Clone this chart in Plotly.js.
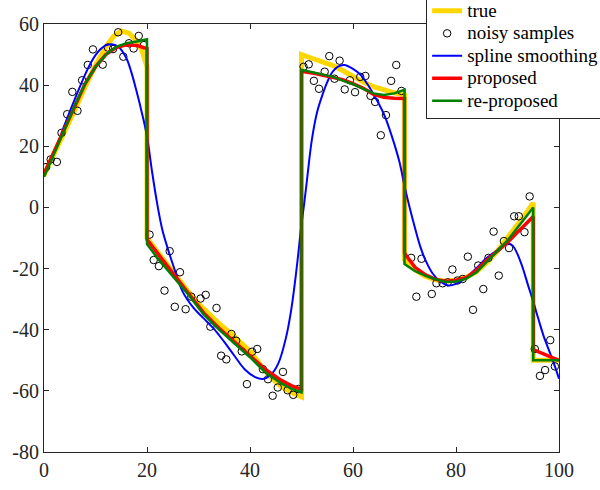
<!DOCTYPE html>
<html>
<head>
<meta charset="utf-8">
<script src="https://cdn.plot.ly/plotly-3.0.1.min.js"></script>
<style>html,body{margin:0;padding:0;background:#fff;}#chart{width:600px;height:490px;}</style>
</head>
<body>
<div id="chart"></div>
<script>
// ---- data ----
var trueX = [0,2,4,6,8,10,12,13.5,15,16.5,18,19,20,
  20,22,24,26,28,30,32,34,36,38,40,42,44,46,48,50,
  50,52,54,56,58,60,62,64,66,68,70,
  70,72,74,76,78,80,82,84,86,88,90,92,94,95,
  95,100];
var trueY = [10.5,17.5,24.5,32,39.5,46.5,52.5,56,57.7,57,54.5,51.5,46,
  -10,-14.5,-19,-23.5,-27.5,-31.5,-35,-38,-40.8,-43.8,-47,-51.5,-55.5,-58.5,-60.5,-62,
  50,48.8,47.8,46.5,44.8,42.8,41,39.5,38.3,37.5,36.8,
  -17,-20.3,-22.5,-23.7,-24.1,-23.8,-22.8,-21,-18,-14.3,-10.2,-5.5,-1,1.5,
  -50,-50];

var sampleX = [0.4,1.3,2.5,3.4,4.5,5.5,6.5,7.4,8.5,9.5,11.4,12.4,13.4,14.4,15.4,16.5,17.4,18.4,19.4,
  20.5,21.3,22.3,23.4,24.4,25.4,26.4,27.5,28.6,30.4,31.4,32.3,33.5,34.4,35.4,36.4,37.3,38.4,39.4,40.4,41.4,42.5,43.5,44.4,45.4,46.4,47.3,48.4,49.4,
  50.4,51.4,52.4,53.4,54.5,55.4,56.4,57.4,58.4,59.4,60.4,61.4,62.4,63.4,64.3,65.4,66.4,67.4,68.4,69.4,
  71.3,72.3,73.3,75.3,76.2,77.4,78.4,79.3,80.3,81.3,82.3,83.3,84.3,85.3,86.3,87.3,88.3,89.3,90.3,91.3,92.2,93.3,94.3,
  95.3,96.3,97.3,98.3,99.2];
var sampleY = [13.2,15.7,14.9,24.4,30.5,37.8,31.6,41.6,46.6,51.7,46.7,52.3,51.8,57.3,49.3,53.7,52.0,56.1,53.1,
  -8.9,-17.2,-19.2,-27.2,-14.3,-32.5,-21.2,-33.3,-29.2,-29.8,-28.6,-39.0,-32.9,-48.5,-49.7,-41.4,-43.6,-47.1,-57.8,-47.2,-46.3,-52.9,-56.2,-61.6,-58.9,-53.8,-59.8,-61.3,-59.4,
  46.0,46.8,41.4,38.8,44.4,49.5,42.1,48.0,38.6,41.6,37.7,42.7,43.0,36.5,34.5,23.6,30.2,41.4,46.6,38.1,
  -16.5,-29.2,-16.8,-28.3,-24.8,-24.8,-24.5,-20.3,-23.9,-23.4,-16.1,-33.5,-19.0,-26.7,-16.5,-7.9,-22.3,-11.0,-13.3,-2.9,-2.9,-8.1,3.6,
  -46.3,-55.1,-53.2,-43.4,-52.0];

var splineX = [0,2,4,6,8,9,10,11,12,13.2,14.5,16,17,18,19,20,21,22,23,24,25,27,29,31,33,35,37,39,41,42.5,44,45.5,47,48,49,50,50.5,51,52,53,54,55,56,57,58.3,60,61.5,63,64.5,66,67.5,69,70,71,72,73,74,75.5,77,78.5,80,82,84,86,88,89,90,91,92,93,94,95,96,97,98,99,100];
var splineY = [10,18,27,35.5,43.5,47,49.8,51.8,53,53.4,52.5,48.8,44,37.8,31,23.2,11.5,1,-7.5,-13.3,-18.5,-27.8,-32.8,-36.3,-39.7,-44,-48.6,-53,-55.5,-56.1,-54.8,-51,-42.5,-33.5,-20.7,-5.5,1,8,22,31,36.5,41,44.3,46,46.6,45.3,43.3,39.8,35.5,30.5,23.5,15,7,0,-6.5,-12.5,-17,-21.7,-24.3,-25.5,-25,-23,-19.8,-16.5,-14,-12.5,-11.7,-12.5,-15.5,-20,-25.5,-30.8,-36.5,-42,-46.5,-51,-56];

var propX = [0,2,4,6,8,10,12,14,16,18,19,20,
  20,22,25,28,31,34,37,40,43,46,48,50,
  50,52,54,56,58,60,62,64,66,68,70,
  70,72,74,76,78,80,82,84,86,88,90,92,94,95,
  95,100];
var propY = [11,18.5,26,33.5,40.5,46,50,52.3,53.2,53,52.6,52,
  -10.5,-15,-21.5,-28,-34.5,-39.5,-44,-48.5,-53,-56.5,-58.3,-59.5,
  44.5,44,43.3,42.6,41.8,40.5,39,37,36,35.7,35.6,
  -15,-19.5,-22,-23.5,-24.2,-23.8,-23,-20.5,-17.2,-14.5,-11.5,-8,-4.5,-3,
  -46.5,-50];

var reX = [0,2,4,6,8,10,12,14,16,18,19,20,
  20,22,25,28,31,34,37,40,43,46,48,50,
  50,52,54,56,58,60,62,64,66,68,70,
  70,72,74,76,78,80,82,84,86,88,90,92,94,95,
  95,100];
var reY = [10,17.5,25.5,33.5,40.5,46,50,52.5,53.7,54.3,54.6,55,
  -12,-16.5,-22.5,-28.5,-35,-40,-44.5,-49,-54,-57.5,-59.3,-60.5,
  45,44.3,43.7,42.8,41.5,40.3,38.8,37.3,36.8,37.3,38.5,
  -18.5,-20.8,-22.3,-23.5,-24.4,-24.2,-23.3,-21.2,-17.8,-14.2,-10.8,-6.5,-2,0,
  -50,-50];

var seriesNames = ['true','noisy samples','spline smoothing','proposed','re-proposed'];
var xTicks = [0,20,40,60,80,100];
var xTickText = ['0','20','40','60','80','100'];
var yTicks = [-80,-60,-40,-20,0,20,40,60];
var yTickText = ['-80','-60','-40','-20','0','20','40','60'];

var serif = 'Liberation Serif, Times New Roman, serif';
var axisColor = '#262626';
function legendName(s) { return '<span style="font-size:19px">' + s + '</span>'; }

var traces = [
  {x: trueX, y: trueY, name: legendName(seriesNames[0]), mode: 'lines', line: {color: '#FFD700', width: 5}},
  {x: sampleX, y: sampleY, name: legendName(seriesNames[1]), mode: 'markers',
    marker: {symbol: 'circle-open', size: 7.5, color: '#000000', line: {width: 1, color: '#000000'}}},
  {x: splineX, y: splineY, name: legendName(seriesNames[2]), mode: 'lines', line: {color: '#0000FF', width: 2, shape: 'spline', smoothing: 1}},
  {x: propX, y: propY, name: legendName(seriesNames[3]), mode: 'lines', line: {color: '#FF0000', width: 3.5}},
  {x: reX, y: reY, name: legendName(seriesNames[4]), mode: 'lines', line: {color: '#008000', width: 2.5}}
];

var axisCommon = {
  showgrid: false, zeroline: false, showline: true, linecolor: axisColor, linewidth: 1,
  mirror: 'ticks', ticks: 'inside', ticklen: 5, tickwidth: 1, tickcolor: axisColor,
  tickfont: {family: serif, size: 20, color: axisColor}, tickmode: 'array', fixedrange: true
};

var layout = {
  width: 600, height: 490,
  margin: {l: 44, r: 41, t: 24, b: 38, autoexpand: false},
  paper_bgcolor: '#ffffff', plot_bgcolor: '#ffffff',
  showlegend: true,
  legend: {
    x: 0.742, xanchor: 'left', y: 0.779, yanchor: 'bottom',
    bgcolor: '#ffffff', bordercolor: axisColor, borderwidth: 1,
    font: {family: serif, size: 15, color: '#000000'}
  },
  xaxis: Object.assign({}, axisCommon, {range: [0, 100], tickvals: xTicks, ticktext: xTickText}),
  yaxis: Object.assign({}, axisCommon, {range: [-80, 60], tickvals: yTicks, ticktext: yTickText})
};

Plotly.newPlot('chart', traces, layout, {staticPlot: true, displayModeBar: false});
</script>
</body>
</html>
